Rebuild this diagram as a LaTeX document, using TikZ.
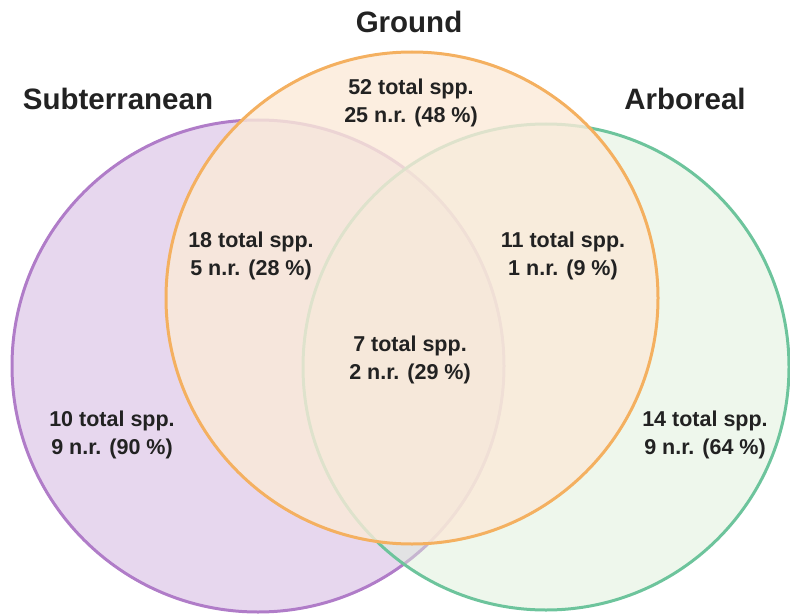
\documentclass[tikz,border=0pt]{standalone}
\usepackage{fontspec}
\setmainfont{Liberation Sans}
\definecolor{purpS}{HTML}{B07CC8}
\definecolor{purpF}{HTML}{B07CC8}
\definecolor{orgS}{HTML}{F4B060}
\definecolor{orgF}{HTML}{FBEAD8}
\definecolor{grnS}{HTML}{6DC49C}
\definecolor{grnF}{HTML}{DDEFD9}
\definecolor{txt}{HTML}{222222}
\begin{document}
\begin{tikzpicture}[x=1pt,y=-1pt,
  setcircle/.style={circle,inner sep=0pt,outer sep=0pt,line width=3pt},
  cnt/.style={align=center,text=txt,font=\fontsize{21.5}{28}\selectfont\bfseries,inner sep=0pt},
  head/.style={text=txt,font=\fontsize{29.5}{34}\selectfont\bfseries,inner sep=0pt,anchor=base}]
\useasboundingbox (0,0) rectangle (790,615);
\node[setcircle,minimum size=492pt,draw=purpS,fill=purpF,fill opacity=0.3] (sub) at (258,366) {};
\node[setcircle,minimum size=486pt,draw=grnS,fill=grnF,fill opacity=0.5] (arb) at (546,367) {};
\node[setcircle,minimum size=492pt,draw=orgS,fill=orgF,fill opacity=0.8] (gro) at (412,298) {};
\node[head] (hsub) at (118,110) {Subterranean};
\node[head] (hgro) at (409,33) {Ground};
\node[head] (harb) at (685,110) {Arboreal};
\node[cnt] (g) at (411,103) {52 total spp.\\25 n.r. (48 \%)};
\node[cnt] (sg) at (251,256) {18 total spp.\\5 n.r. (28 \%)};
\node[cnt] (ga) at (563,256) {11 total spp.\\1 n.r. (9 \%)};
\node[cnt] (sga) at (410,360) {7 total spp.\\2 n.r. (29 \%)};
\node[cnt] (s) at (112,435) {10 total spp.\\9 n.r. (90 \%)};
\node[cnt] (a) at (705,435) {14 total spp.\\9 n.r. (64 \%)};
\end{tikzpicture}
\end{document}
